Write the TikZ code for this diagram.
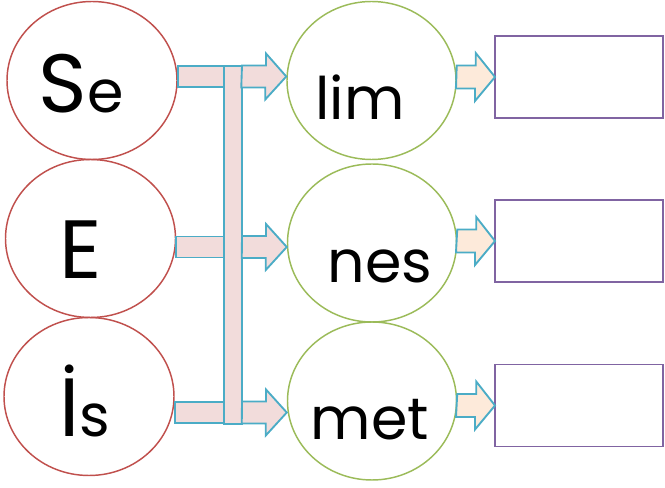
\documentclass[tikz,border=0pt]{standalone}
\usepackage{fontspec}
\setmainfont{Poppins}
\usetikzlibrary{shapes.geometric,calc}
\tikzset{every picture/.style={line width=0.75pt}}
\definecolor{ringred}{RGB}{192,80,77}
\definecolor{ringgreen}{RGB}{155,187,89}
\definecolor{boxpurple}{RGB}{128,100,162}
\definecolor{pipeblue}{RGB}{75,172,198}
\definecolor{pipepink}{RGB}{242,220,219}
\definecolor{pipepeach}{RGB}{253,234,218}
\newcommand{\syllcap}[1]{{\fontsize{62}{62}\selectfont #1}}

\begin{document}
\begin{tikzpicture}[x=0.75pt,y=0.75pt,yscale=-1,xscale=1,
	redring/.style={ellipse, draw=ringred, line width=1.1pt, minimum width=127.5pt, minimum height=118.5pt, inner sep=0pt},
	greenring/.style={ellipse, draw=ringgreen, line width=1.1pt, minimum width=126.75pt, minimum height=118.5pt, inner sep=0pt},
	answerbox/.style={rectangle, draw=boxpurple, line width=1.4pt, minimum width=126pt, minimum height=61.5pt, inner sep=0pt, outer sep=0pt},
	pipe/.style={draw=pipeblue, fill=pipepink, line width=1.4pt},
	smallpipe/.style={draw=pipeblue, fill=pipepeach, line width=1.4pt},
	word/.style={anchor=base, inner sep=0pt, font=\fontsize{44}{44}\selectfont}
	]
	\useasboundingbox (0,0) rectangle (665,488);
	
	%Shape: Ellipse (syllables)
	\node[redring] (l1) at (92,80.5) {};
	\node[redring] (l2) at (90.5,238.5) {};
	\node[redring] (l3) at (89,396.5) {};
	
	%Shape: Ellipse (endings)
	\node[greenring] (m1) at (371.5,80.5) {};
	\node[greenring] (m2) at (372,243) {};
	\node[greenring] (m3) at (372,401) {};
	
	%Shape: Rectangle (empty answers)
	\node[answerbox] (t1) at (579,77) {};
	\node[answerbox] (t2) at (579,241) {};
	\node[answerbox] (t3) at (579,405.5) {};
	
	%Text
	\node[word] (w1) at (81,113) {\syllcap{S}e};
	\node[word] (w2) at (81,279) {\syllcap{E}};
	\node[word] (w3) at (85,437) {\syllcap{İ}s};
	\node[word] (w4) at (360,120) {lim};
	\node[word] (w5) at (380,283) {nes};
	\node[word] (w6) at (370,440) {met};
	
	%rows of the pipes
	\coordinate (r1) at (0,76.5);
	\coordinate (r2) at (0,247);
	\coordinate (r3) at (0,412.5);
	
	%Shape: Rectangle (bus)
	\node[pipe, rectangle, minimum width=13.5pt, minimum height=268.5pt, inner sep=0pt, outer sep=0pt] (bus) at (233,245) {};
	
	%Straight Lines (syllable to bus)
	\draw[pipe] ($(l1.east |- r1)+(0,-10.5)$) rectangle ($(bus.west |- r1)+(0,10.5)$);
	\draw[pipe] ($(l2.east |- r2)+(0,-10.5)$) rectangle ($(bus.west |- r2)+(0,10.5)$);
	\draw[pipe] ($(l3.east |- r3)+(0,-10.5)$) rectangle ($(bus.west |- r3)+(0,10.5)$);
	
	%Block arrows (bus to endings)
	\draw[pipe] ($(bus.east |- r1)+(0,-11)$) -- ++(24,0) -- ++(0,-12) -- (m1.west |- r1) -- ++(-21,23) -- ++(0,-12) -- ++(-24,0) -- cycle;
	\draw[pipe] ($(bus.east |- r2)+(0,-11)$) -- ++(24,0) -- ++(0,-12) -- (m2.west |- r2) -- ++(-21,23) -- ++(0,-12) -- ++(-24,0) -- cycle;
	\draw[pipe] ($(bus.east |- r3)+(0,-11)$) -- ++(24,0) -- ++(0,-12) -- (m3.west |- r3) -- ++(-21,23) -- ++(0,-12) -- ++(-24,0) -- cycle;
	
	%Block arrows (endings to answers)
	\draw[smallpipe] ($(m1.east |- t1.west)+(0,-11.5)$) -- ++(19,0) -- ++(0,-12.5) -- (t1.west) -- ++(-20,24) -- ++(0,-12.5) -- ++(-19,0) -- cycle;
	\draw[smallpipe] ($(m2.east |- t2.west)+(0,-11.5)$) -- ++(19,0) -- ++(0,-12.5) -- (t2.west) -- ++(-20,24) -- ++(0,-12.5) -- ++(-19,0) -- cycle;
	\draw[smallpipe] ($(m3.east |- t3.west)+(0,-11.5)$) -- ++(19,0) -- ++(0,-12.5) -- (t3.west) -- ++(-20,24) -- ++(0,-12.5) -- ++(-19,0) -- cycle;
	
\end{tikzpicture}
\end{document}
